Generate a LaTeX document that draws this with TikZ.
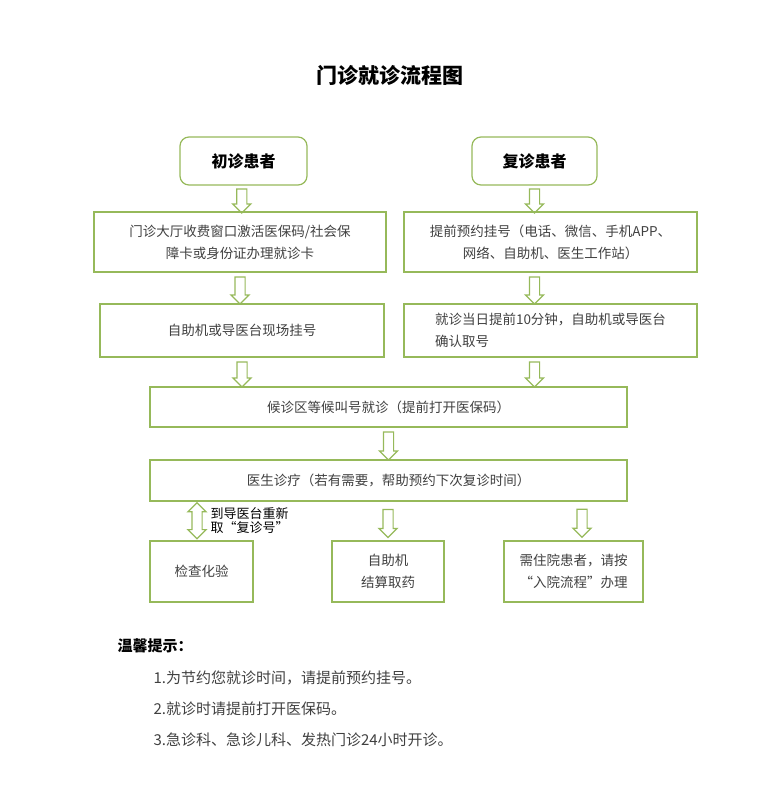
\documentclass[tikz,border=0pt]{standalone}
\usepackage{fontspec}
\setmainfont{Noto Sans CJK SC}
\usetikzlibrary{shapes.arrows}
\definecolor{boxgreen}{RGB}{150,185,90}
\definecolor{txtgray}{RGB}{64,64,64}
\tikzset{
  box/.style={draw=boxgreen, line width=1.2pt, text=txtgray, font=\fontsize{13.5}{22}\selectfont, align=center, inner sep=0pt},
  start/.style={box, rounded corners=9pt, font=\fontsize{16}{20}\selectfont\bfseries, text=black},
  harrow/.style={draw=boxgreen, line width=1.2pt, shape=single arrow, rotate=-90, single arrow head extend=4pt, inner xsep=0pt, inner ysep=4.5pt, minimum height=#1},
  barrow/.style={draw=boxgreen, line width=1.2pt, shape=double arrow, rotate=-90, double arrow head extend=4pt, inner xsep=0pt, inner ysep=4.5pt, minimum height=#1}
}
\begin{document}
\begin{tikzpicture}[x=1pt, y=-1pt]
  \useasboundingbox (0,0) rectangle (780,807);
  \node[font=\fontsize{21}{24}\selectfont\bfseries] (title) at (390,75) {门诊就诊流程图};
  % first visit
  \node[start, minimum width=127pt, minimum height=48pt] (first) at (243.5,161) {初诊患者};
  \node[box, minimum width=292pt, minimum height=60pt] (card) at (240,242) {门诊大厅收费窗口激活医保码/社会保\\障卡或身份证办理就诊卡};
  \node[box, minimum width=284pt, minimum height=53pt] (reg) at (242,330.5) {自助机或导医台现场挂号};
  % return visit
  \node[start, minimum width=125pt, minimum height=48pt] (second) at (534.5,161) {复诊患者};
  \node[box, minimum width=293pt, minimum height=60pt] (book) at (550.5,242) {提前预约挂号（电话、微信、手机APP、\\网络、自助机、医生工作站）};
  \node[box, minimum width=293pt, minimum height=53pt, align=left] (fetch) at (550.5,330.5) {就诊当日提前10分钟，自助机或导医台\\确认取号};
  % common
  \node[box, minimum width=477pt, minimum height=40pt] (wait) at (388.5,407) {候诊区等候叫号就诊（提前打开医保码）};
  \node[box, minimum width=477pt, minimum height=41pt] (doc) at (388.5,480.5) {医生诊疗（若有需要，帮助预约下次复诊时间）};
  \node[box, minimum width=103pt, minimum height=61pt] (lab) at (201.5,571.5) {检查化验};
  \node[box, minimum width=112pt, minimum height=61pt] (pay) at (388,571.5) {自助机\\结算取药};
  \node[box, minimum width=139pt, minimum height=61pt] (ward) at (573.5,571.5) {需住院患者，请按\\“入院流程”办理};
  % arrows
  \path (first.south) -- (card.north) node[midway, harrow=24pt] {};
  \path (card.south) -- (card.south |- reg.north) node[midway, harrow=27pt] {};
  \path (reg.south) -- (reg.south |- wait.north) node[midway, harrow=25pt] {};
  \path (second.south) -- (second.south |- book.north) node[midway, harrow=24pt] {};
  \path (second.south |- book.south) -- (second.south |- fetch.north) node[midway, harrow=27pt] {};
  \path (second.south |- fetch.south) -- (second.south |- wait.north) node[midway, harrow=25pt] {};
  \path (wait.south) -- (doc.north) node[midway, harrow=28pt] {};
  \path (lab.north -| 197,0) -- (197,501) node[midway, barrow=36pt] (back) {};
  \path (pay.north) -- (pay.north |- doc.south) node[midway, harrow=28pt] {};
  \path (ward.north -| 582,0) -- (582,501) node[midway, harrow=28pt] {};
  \node[anchor=west, align=left, font=\fontsize{13}{14}\selectfont] (note) at (207,521) {到导医台重新\\取“复诊号”};
  % tips
  \node[anchor=west, font=\fontsize{15}{18}\selectfont\bfseries] (tips) at (114,646) {温馨提示：};
  \node[anchor=west, align=left, text=txtgray, font=\fontsize{15}{31}\selectfont] (list) at (150,709) {1.为节约您就诊时间，请提前预约挂号。\\2.就诊时请提前打开医保码。\\3.急诊科、急诊儿科、发热门诊24小时开诊。};
\end{tikzpicture}
\end{document}
